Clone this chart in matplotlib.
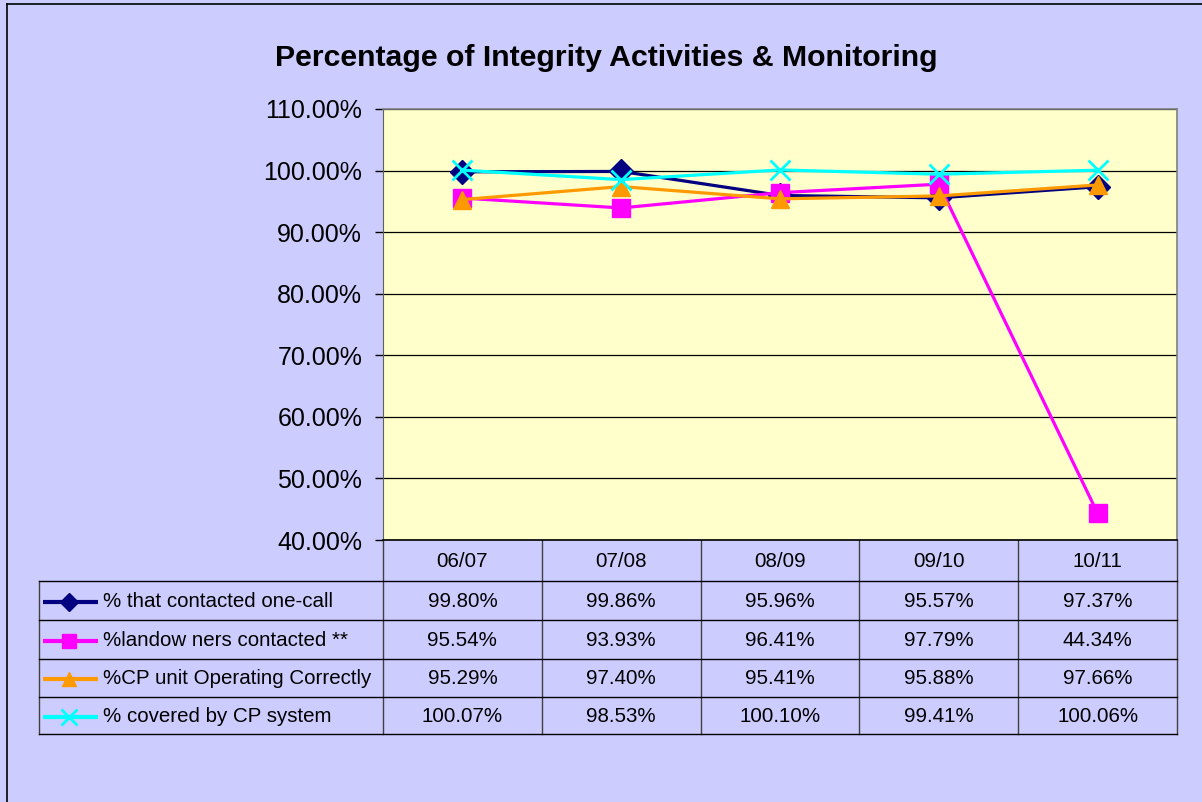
import matplotlib.pyplot as plt
from matplotlib.ticker import FuncFormatter

plt.rcParams['font.family'] = ['Liberation Sans', 'DejaVu Sans']

# data
years = ['06/07', '07/08', '08/09', '09/10', '10/11']
series_names = ['% that contacted one-call', '%landow ners contacted **',
                '%CP unit Operating Correctly', '% covered by CP system']
one_call = [99.80, 99.86, 95.96, 95.57, 97.37]
landowners = [95.54, 93.93, 96.41, 97.79, 44.34]
cp_unit = [95.29, 97.40, 95.41, 95.88, 97.66]
cp_covered = [100.07, 98.53, 100.10, 99.41, 100.06]

series = [one_call, landowners, cp_unit, cp_covered]
colors = ['#000080', '#FF00FF', '#FF9900', '#00FFFF']
markers = ['D', 's', '^', 'x']
msizes = [12, 12.5, 13, 14]

W, H = 1202, 802
fig = plt.figure(figsize=(W / 100, H / 100), dpi=100)
fig.patch.set_facecolor('#CCCCFF')

# plot area in pixel coords
px_left, px_right, px_top, px_bot = 383, 1177, 109, 540
ax = fig.add_axes([px_left / W, 1 - px_bot / H, (px_right - px_left) / W, (px_bot - px_top) / H])
ax.set_facecolor('#FFFFCC')

x = range(len(years))
for vals, c, m, ms in zip(series, colors, markers, msizes):
    mew = 2 if m == 'x' else 1
    ax.plot(x, vals, color=c, lw=2.3, marker=m, markersize=ms, markeredgewidth=mew,
            markerfacecolor=c, markeredgecolor=c, clip_on=False)

ax.set_xlim(-0.5, len(years) - 0.5)
ax.set_ylim(40, 110)
ax.set_yticks(range(40, 111, 10))
ax.yaxis.set_major_formatter(FuncFormatter(lambda v, p: '%.2f%%' % v))
ax.tick_params(axis='y', direction='out', length=6, width=1, pad=9, labelsize=18, colors='black')
ax.set_xticks([])
ax.grid(axis='y', color='black', lw=0.9)
ax.set_axisbelow(True)
for side in ['top', 'right']:
    ax.spines[side].set_color('#808080')
    ax.spines[side].set_linewidth(1.2)
ax.spines['left'].set_color('#606060')
ax.spines['bottom'].set_color('black')
ax.spines['bottom'].set_linewidth(1.2)

fig.text(606 / W, 1 - 58 / H, 'Percentage of Integrity Activities & Monitoring',
         ha='center', va='center', fontsize=21.8, fontweight='bold')

# data table under the chart, drawn in pixel coordinates
tb = fig.add_axes([0, 0, 1, 1])
tb.set_xlim(0, W)
tb.set_ylim(H, 0)
tb.axis('off')
tb.set_zorder(-1)

# figure border (left and top)
tb.plot([7, 7], [4, H], color='black', lw=1.2)
tb.plot([7, W], [4, 4], color='black', lw=1.2)

col_w = (px_right - px_left) / len(years)
cols = [px_left + i * col_w for i in range(len(years) + 1)]
rows = [540, 581, 620, 659, 697, 734]
tab_left = 39

for cx in cols:
    tb.plot([cx, cx], [rows[0], rows[-1]], color='#404040', lw=1)
tb.plot([tab_left, tab_left], [rows[1], rows[-1]], color='#404040', lw=1)
for ry in rows[1:]:
    tb.plot([tab_left, px_right], [ry, ry], color='black', lw=1)

for i, yr in enumerate(years):
    tb.text(cols[i] + col_w / 2, (rows[0] + rows[1]) / 2 + 1, yr, ha='center', va='center', fontsize=14.8)

for r, (name, vals, c, m, ms) in enumerate(zip(series_names, series, colors, markers, msizes)):
    cy = (rows[r + 1] + rows[r + 2]) / 2 + 1
    mew = 2 if m == 'x' else 1
    tb.plot([43, 98], [cy, cy], color=c, lw=3, solid_capstyle='butt')
    tb.plot([69], [cy], marker=m, color=c, markersize=ms * 0.8, markeredgewidth=mew)
    tb.text(103, cy, name, ha='left', va='center', fontsize=14.8)
    for i, v in enumerate(vals):
        tb.text(cols[i] + col_w / 2, cy, '%.2f%%' % v, ha='center', va='center', fontsize=14.8)

fig.savefig('out.png', dpi=100, facecolor=fig.get_facecolor())
